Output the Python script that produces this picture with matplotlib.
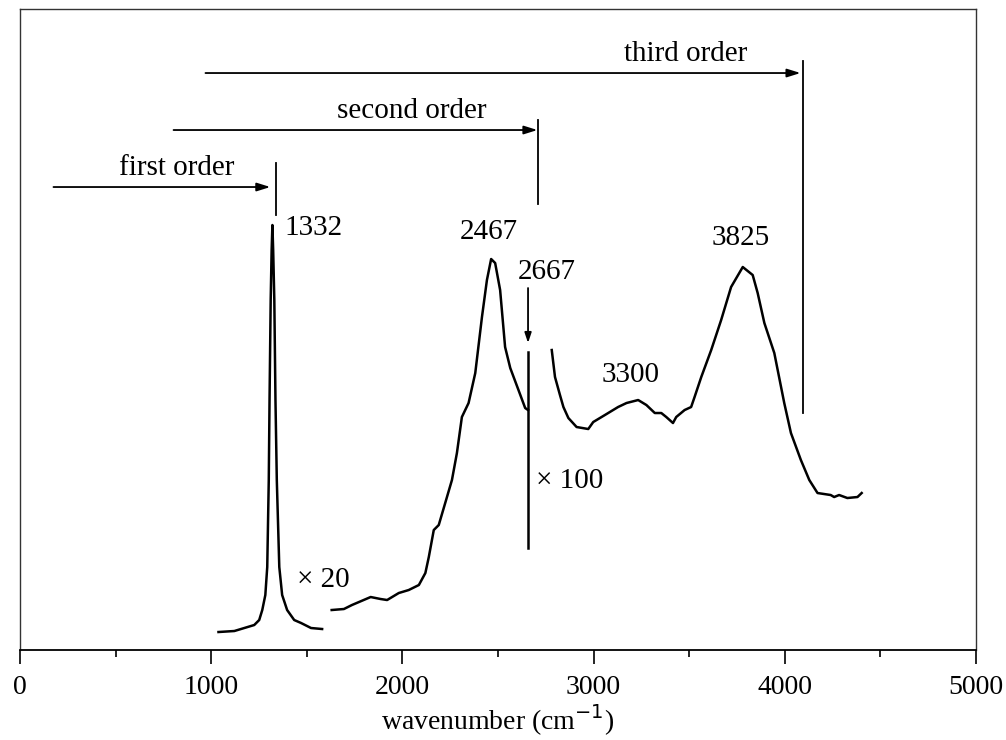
import matplotlib
matplotlib.use("Agg")
import matplotlib.pyplot as plt
from matplotlib.ticker import MultipleLocator

plt.rcParams['font.family'] = ['Liberation Serif', 'DejaVu Serif']

# first order band (1332)
x1 = [1038, 1121, 1173, 1225, 1251, 1267, 1283, 1293, 1301, 1305, 1311, 1316, 1320,
      1324, 1330, 1336, 1343, 1356, 1371, 1397, 1434, 1470, 1522, 1580]
y1 = [18, 19, 22, 25, 30, 40, 55, 83, 170, 250, 350, 400, 425,
      400, 350, 250, 170, 83, 55, 40, 30, 27, 22, 21]

# second order band (x20)
x2 = [1630, 1694, 1736, 1834, 1886, 1920, 1981, 2033, 2086, 2120, 2138, 2164, 2190,
      2233, 2259, 2285, 2311, 2346, 2381, 2416, 2442, 2464, 2485, 2511, 2537, 2564,
      2607, 2642, 2657]
y2 = [40, 41, 45, 53, 51, 50, 57, 60, 65, 77, 93, 120, 125,
      153, 170, 197, 233, 247, 277, 333, 370, 391, 387, 360, 303, 282,
      260, 242, 240]

# sharp 2667 line (x100)
x_2667 = 2657
y_2667 = [102, 298]

# third order band
x3 = [2781, 2798, 2824, 2842, 2868, 2911, 2972, 2998, 3059, 3128, 3172, 3233, 3276,
      3320, 3354, 3380, 3415, 3432, 3476, 3510, 3528, 3563, 3615, 3667, 3719, 3780,
      3832, 3858, 3893, 3945, 3997, 4032, 4084, 4128, 4171, 4240, 4258, 4284, 4327,
      4380, 4402]
y3 = [300, 273, 255, 243, 232, 223, 221, 228, 235, 243, 247, 250, 245,
      237, 237, 233, 227, 233, 240, 243, 253, 273, 300, 330, 363, 383,
      375, 357, 327, 297, 247, 217, 190, 170, 157, 155, 153, 155, 152,
      153, 157]

# order limits
order_names = ["first order", "second order", "third order"]
order_start = [175, 803, 970]
order_end = [1309, 2706, 4082]
order_y = [463, 520, 577]
order_mark_x = [1340, 2711, 4093]
order_mark_lo = [435, 446, 237]
order_mark_hi = [487, 530, 589]
order_text_x = [819, 2049, 3483]

fig = plt.figure(figsize=(10.06, 7.40), dpi=100)
ax = fig.add_axes([0.0199, 0.1216, 0.9503, 0.8662])

lw = 1.8
ax.plot(x1, y1, color="black", lw=lw)
ax.plot(x2, y2, color="black", lw=lw)
ax.plot([x_2667, x_2667], y_2667, color="black", lw=lw)
ax.plot(x3, y3, color="black", lw=lw)

fs = 21
for i in range(3):
    ax.annotate("", xy=(order_end[i], order_y[i]), xytext=(order_start[i], order_y[i]),
                arrowprops=dict(arrowstyle="-|>,head_length=0.8,head_width=0.25",
                                color="black", lw=1.3, shrinkA=0, shrinkB=0))
    ax.plot([order_mark_x[i], order_mark_x[i]], [order_mark_lo[i], order_mark_hi[i]],
            color="black", lw=1.3)
    ax.text(order_text_x[i], order_y[i] + 6, order_names[i], fontsize=fs,
            ha="center", va="bottom")

# arrow to the 2667 line
ax.annotate("", xy=(x_2667, 307), xytext=(x_2667, 362),
            arrowprops=dict(arrowstyle="-|>,head_length=0.6,head_width=0.2",
                            color="black", lw=1.3, shrinkA=0, shrinkB=0))

ax.text(1382, 422, "1332", fontsize=fs, ha="left", va="center")
ax.text(2450, 418, "2467", fontsize=fs, ha="center", va="center")
ax.text(2753, 378, "2667", fontsize=fs, ha="center", va="center")
ax.text(3191, 275, "3300", fontsize=fs, ha="center", va="center")
ax.text(3770, 412, "3825", fontsize=fs, ha="center", va="center")
ax.text(1585, 70, "\u00d7 20", fontsize=fs, ha="center", va="center")
ax.text(2873, 169, "\u00d7 100", fontsize=fs, ha="center", va="center")

ax.set_xlim(0, 5000)
ax.set_ylim(0, 641)
ax.set_yticks([])
ax.xaxis.set_major_locator(MultipleLocator(1000))
ax.xaxis.set_minor_locator(MultipleLocator(500))
ax.tick_params(axis="x", which="major", direction="out", length=10, width=1.2,
               labelsize=20, pad=8)
ax.tick_params(axis="x", which="minor", direction="out", length=5, width=1.2)
for s in ["top", "left", "right"]:
    ax.spines[s].set_linewidth(1.0)
    ax.spines[s].set_color("#333333")
ax.spines["bottom"].set_linewidth(1.3)
ax.set_xlabel("wavenumber (cm$^{-1}$)", fontsize=20, labelpad=2)

fig.savefig("out.png", dpi=100)
